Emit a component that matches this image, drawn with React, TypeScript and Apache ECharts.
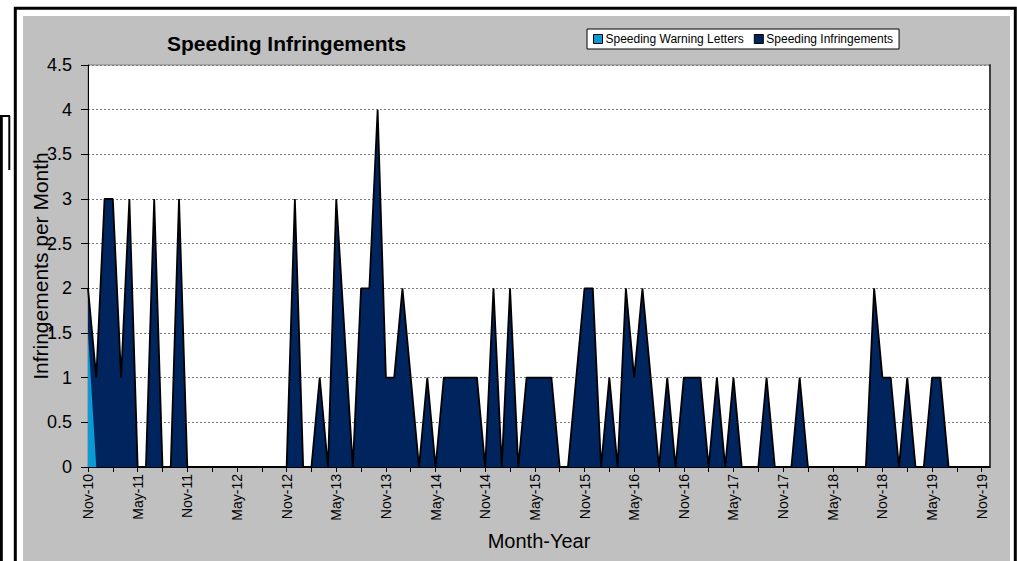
import React, { useEffect, useRef } from "react";
import * as echarts from "echarts";

const categories = [
  "Nov-10", "Dec-10",
  "Jan-11", "Feb-11", "Mar-11", "Apr-11", "May-11", "Jun-11", "Jul-11", "Aug-11", "Sep-11", "Oct-11", "Nov-11", "Dec-11",
  "Jan-12", "Feb-12", "Mar-12", "Apr-12", "May-12", "Jun-12", "Jul-12", "Aug-12", "Sep-12", "Oct-12", "Nov-12", "Dec-12",
  "Jan-13", "Feb-13", "Mar-13", "Apr-13", "May-13", "Jun-13", "Jul-13", "Aug-13", "Sep-13", "Oct-13", "Nov-13", "Dec-13",
  "Jan-14", "Feb-14", "Mar-14", "Apr-14", "May-14", "Jun-14", "Jul-14", "Aug-14", "Sep-14", "Oct-14", "Nov-14", "Dec-14",
  "Jan-15", "Feb-15", "Mar-15", "Apr-15", "May-15", "Jun-15", "Jul-15", "Aug-15", "Sep-15", "Oct-15", "Nov-15", "Dec-15",
  "Jan-16", "Feb-16", "Mar-16", "Apr-16", "May-16", "Jun-16", "Jul-16", "Aug-16", "Sep-16", "Oct-16", "Nov-16", "Dec-16",
  "Jan-17", "Feb-17", "Mar-17", "Apr-17", "May-17", "Jun-17", "Jul-17", "Aug-17", "Sep-17", "Oct-17", "Nov-17", "Dec-17",
  "Jan-18", "Feb-18", "Mar-18", "Apr-18", "May-18", "Jun-18", "Jul-18", "Aug-18", "Sep-18", "Oct-18", "Nov-18", "Dec-18",
  "Jan-19", "Feb-19", "Mar-19", "Apr-19", "May-19", "Jun-19", "Jul-19", "Aug-19", "Sep-19", "Oct-19", "Nov-19", "Dec-19",
];

const speedingInfringements = [
  2, 1,
  3, 3, 1, 3, 0, 0, 3, 0, 0, 3, 0, 0,
  0, 0, 0, 0, 0, 0, 0, 0, 0, 0, 0, 3,
  0, 0, 1, 0, 3, 1.5, 0, 2, 2, 4, 1, 1,
  2, 1, 0, 1, 0, 1, 1, 1, 1, 1, 0, 2,
  0, 2, 0, 1, 1, 1, 1, 0, 0, 1, 2, 2,
  0, 1, 0, 2, 1, 2, 1, 0, 1, 0, 1, 1,
  1, 0, 1, 0, 1, 0, 0, 0, 1, 0, 0, 0,
  1, 0, 0, 0, 0, 0, 0, 0, 0, 2, 1, 1,
  0, 1, 0, 0, 1, 1, 0, 0, 0, 0, 0, 0,
];

const speedingWarningLetters = [1.5, 0];

const seriesNames = ["Speeding Warning Letters", "Speeding Infringements"];
const titleText = "Speeding Infringements";
const yAxisTitle = "Infringements per Month";
const xAxisTitle = "Month-Year";

const FONT = "'Liberation Sans', Arial, Helvetica, sans-serif";
const NAVY = "#00245E";
const LIGHT_BLUE = "#0A9AD6";

export default function App() {
  const ref = useRef<HTMLDivElement>(null);

  useEffect(() => {
    document.body.style.margin = "0";
    if (!ref.current) return;
    const chart = echarts.init(ref.current, null, { renderer: "svg" });
    const option: any = {
      animation: false,
      backgroundColor: "#ffffff",
      textStyle: { fontFamily: FONT, color: "#000" },
      graphic: [
        {
          type: "rect",
          z: -20,
          silent: true,
          shape: { x: 15.3, y: 8.3, width: 1000, height: 600 },
          style: { fill: "#ffffff", stroke: "#000", lineWidth: 3 },
        },
        {
          type: "rect",
          z: -19,
          silent: true,
          shape: { x: 23, y: 16, width: 987, height: 600 },
          style: { fill: "#C0C0C0" },
        },
        {
          type: "line",
          z: -19,
          silent: true,
          shape: { x1: 1.3, y1: 116, x2: 1.3, y2: 561 },
          style: { stroke: "#000", lineWidth: 3 },
        },
        {
          type: "line",
          z: -19,
          silent: true,
          shape: { x1: 0, y1: 116, x2: 10, y2: 116 },
          style: { stroke: "#000", lineWidth: 2 },
        },
        {
          type: "line",
          z: -19,
          silent: true,
          shape: { x1: 9.3, y1: 116, x2: 9.3, y2: 170 },
          style: { stroke: "#000", lineWidth: 2 },
        },
      ],
      title: {
        text: titleText,
        left: 167,
        top: 33,
        padding: 0,
        textStyle: { fontFamily: FONT, fontSize: 21, fontWeight: "bold", color: "#000" },
      },
      legend: {
        data: seriesNames,
        left: 587,
        top: 29,
        orient: "horizontal",
        icon: "rect",
        itemWidth: 9,
        itemHeight: 9,
        itemGap: 10,
        padding: [4, 6, 4, 6],
        backgroundColor: "#ffffff",
        borderColor: "#000",
        borderWidth: 1,
        borderRadius: 0,
        itemStyle: { borderColor: "#000", borderWidth: 1 },
        textStyle: { fontFamily: FONT, fontSize: 12, color: "#000", padding: [0, 0, 0, -2] },
      },
      grid: {
        left: 88,
        right: 27,
        top: 65,
        bottom: 94,
        show: true,
        backgroundColor: "#ffffff",
        borderColor: "#808080",
        borderWidth: 1,
      },
      xAxis: {
        type: "category",
        data: categories,
        boundaryGap: false,
        name: xAxisTitle,
        nameLocation: "middle",
        nameGap: 64,
        nameMoveOverlap: false,
        nameTextStyle: { fontFamily: FONT, fontSize: 20, color: "#000" },
        axisLine: { show: true, lineStyle: { color: "#000", width: 1 } },
        axisTick: { show: true, interval: 2, length: 5, inside: false, lineStyle: { color: "#000" } },
        axisLabel: { interval: 5, rotate: 90, fontSize: 14, margin: 7, color: "#000", fontFamily: FONT },
        splitLine: { show: false },
      },
      yAxis: [
        {
          type: "value",
          min: 0,
          max: 4.5,
          interval: 0.5,
          name: yAxisTitle,
          nameLocation: "middle",
          nameGap: 37,
          nameMoveOverlap: false,
          nameTextStyle: { fontFamily: FONT, fontSize: 21, color: "#000" },
          axisLine: { show: true, lineStyle: { color: "#000", width: 1 } },
          axisTick: { show: true, length: 7, inside: false, lineStyle: { color: "#000" } },
          axisLabel: { fontSize: 18, margin: 16, color: "#000", fontFamily: FONT },
          splitLine: { show: true, lineStyle: { color: "#7a7a7a", type: [2, 2], width: 1 } },
        },
        {
          type: "value",
          min: 0,
          max: 4.5,
          interval: 0.5,
          position: "right",
          axisLine: { show: true, lineStyle: { color: "#404040", width: 2 } },
          axisTick: { show: false },
          axisLabel: { show: false },
          splitLine: { show: false },
        },
      ],
      series: [
        {
          name: seriesNames[0],
          type: "line",
          data: speedingWarningLetters,
          z: 4,
          symbol: "none",
          showSymbol: false,
          color: LIGHT_BLUE,
          itemStyle: { color: LIGHT_BLUE },
          lineStyle: { width: 0, color: LIGHT_BLUE },
          areaStyle: { color: LIGHT_BLUE, opacity: 1 },
        },
        {
          name: seriesNames[1],
          type: "line",
          data: speedingInfringements,
          z: 3,
          symbol: "none",
          showSymbol: false,
          color: NAVY,
          itemStyle: { color: NAVY },
          lineStyle: { width: 1.8, color: "#000" },
          areaStyle: { color: NAVY, opacity: 1 },
        },
      ],
    };
    chart.setOption(option);
    return () => chart.dispose();
  }, []);

  return (
    <div
      ref={ref}
      style={{ position: "fixed", left: 0, top: 0, width: 1017, height: 561 }}
    />
  );
}
